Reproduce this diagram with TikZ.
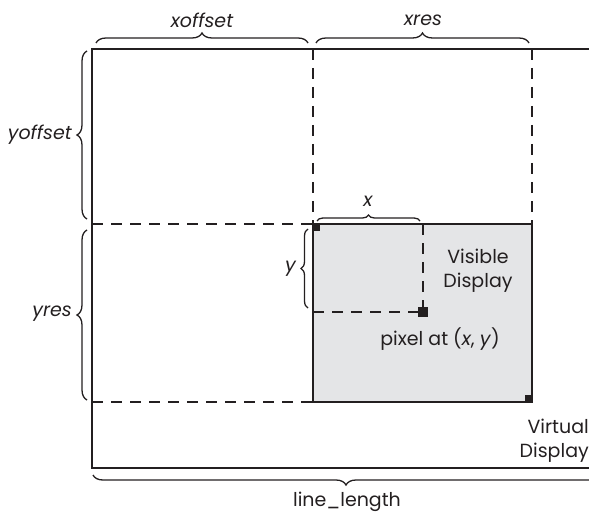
\documentclass[tikz,border=0pt]{standalone}
\usepackage{fontspec}
\setmainfont{Poppins}
\usetikzlibrary{positioning,calc}
\usetikzlibrary{decorations.pathreplacing}
\definecolor{PanelGray}{RGB}{228,229,231}
\definecolor{InkBlack}{RGB}{35,31,32}
\tikzset{
  frame/.style={draw=InkBlack,line width=1.6pt},
  dline/.style={draw=InkBlack,line width=1.6pt,dash pattern=on 11pt off 8pt},
  brc/.style={draw=InkBlack,line width=1.3pt,decorate,
    decoration={brace,amplitude=#1}},
  brc/.default=10pt,
  lbl/.style={font=\fontsize{19}{24}\selectfont,text=InkBlack,inner sep=0pt},
  ilbl/.style={lbl,font=\fontsize{19}{24}\selectfont\itshape},
  dotsq/.style={fill=InkBlack,inner sep=0pt,minimum size=#1},
}

\begin{document}
\begin{tikzpicture}[x=1pt,y=-1pt]
\useasboundingbox (0,0) rectangle (589,516);
% virtual display corners
\coordinate (vtl) at (92,49);
\coordinate (vtr) at (589,49);
\coordinate (vbl) at (92,468);
\coordinate (vbr) at (589,468);
% visible display
\coordinate (stl) at (313,224);
\coordinate (sbr) at (532,402);
\coordinate (str) at (532,224);
\coordinate (sbl) at (313,402);
\coordinate (px) at (423,312);
\coordinate (xoff) at (313,49);
\coordinate (xend) at (532,49);
\coordinate (ltop) at (92,224);
\coordinate (lbot) at (92,402);
\coordinate (pxtop) at (423,224);
\coordinate (pxleft) at (313,312);
\fill[PanelGray] (stl) rectangle (sbr);
\draw[frame] (stl) rectangle (sbr);
\draw[frame] (vtr)--(vtl)--(vbl)--(vbr);
\draw[dline] (xoff)--(stl);
\draw[dline] (xend)--(str);
\draw[dline] (ltop)--(stl);
\draw[dline] (lbot)--(sbl);
\draw[dline] (pxtop)--(px);
\draw[dline] (pxleft)--(px);
\node[dotsq=7pt] (c1) at (316.5,227.5) {};
\node[dotsq=7pt] (c2) at (528.5,398.5) {};
\node[dotsq=10pt] (c3) at (px) {};
% braces
\draw[brc] (96,43)--(308,43);
\draw[brc] (316,43)--(529,43);
\draw[brc] (87,219)--(87,51);
\draw[brc] (87,400)--(87,230);
\draw[brc=6pt] (317,221)--(420,221);
\draw[brc=7pt] (308,308)--(308,229);
\draw[brc] (599,475)--(93,475);
% labels
\node[ilbl] (lxo) at (202,20) {xoffset};
\node[ilbl] (lxr) at (423,20) {xres};
\node[ilbl,anchor=east] (lyo) at (72,135) {yoffset};
\node[ilbl,anchor=east] (lyr) at (72,314) {yres};
\node[ilbl] (lx) at (368,201) {x};
\node[ilbl,anchor=east] (ly) at (296,269) {y};
\node[lbl,align=center] (vis) at (478,271) {Visible\\Display};
\node[lbl] (pxl) at (440,339) {pixel at (\textit{x}, \textit{y})};
\node[lbl,align=right,anchor=east] (virt) at (589,441) {Virtual\\Display};
\node[lbl] (ll) at (347,502) {line\_length};
\end{tikzpicture}
\end{document}
